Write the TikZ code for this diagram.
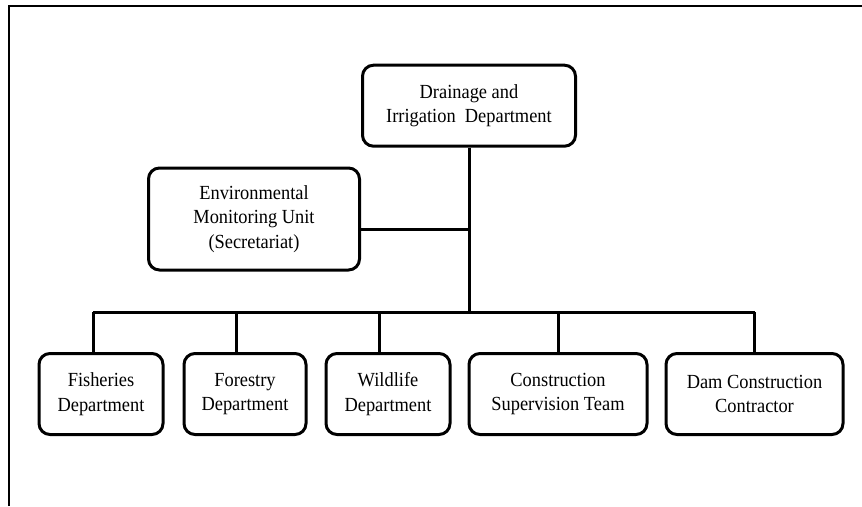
\documentclass[tikz,border=0pt]{standalone}
\usepackage{fontspec}
\setmainfont{Liberation Serif}[FakeStretch=0.92]

\begin{document}
\begin{tikzpicture}[x=1pt,y=-1pt,
    unit/.style={draw, line width=3pt, rounded corners=11pt, align=center,
        inner sep=0pt, minimum height=81pt,
        font=\fontsize{20}{24.5}\selectfont},
    link/.style={line width=3pt},
]
\useasboundingbox (0,0) rectangle (862,506);
\draw[line width=2pt] (8.5,506) -- (8.5,6) -- (862,6);

\node[unit, minimum width=213pt] (did) at (469,105.7)
    {Drainage and\\Irrigation\ \ Department};
\node[unit, minimum width=211pt, minimum height=102pt] (emu) at (254,219)
    {Environmental\\Monitoring Unit\\(Secretariat)};

% bottom row
\node[unit, minimum width=124pt] (fish) at (101,394) {Fisheries\\Department};
\node[unit, minimum width=122pt] (forest) at (245,394) {Forestry\\Department};
\node[unit, minimum width=124pt] (wild) at (388,394) {Wildlife\\Department};
\node[unit, minimum width=178pt] (team) at (558,394) {Construction\\Supervision Team};
\node[unit, minimum width=177pt] (dam) at (754.5,394) {Dam Construction\\Contractor};

\coordinate (bus) at (469,312);
\coordinate (tee) at (469,229);
\coordinate (b1) at (93,312);
\coordinate (b2) at (236,312);
\coordinate (b3) at (379,312);
\coordinate (b5) at (754.5,312);

\draw[link] (did.south) -- (bus);
\draw[link] (emu.east |- tee) -- (tee);
\draw[link] (b1) -- (b5);
\draw[link] (b1) -- (b1 |- fish.north);
\draw[link] (b2) -- (b2 |- forest.north);
\draw[link] (b3) -- (b3 |- wild.north);
\draw[link] (team.north |- bus) -- (team.north);
\draw[link] (b5) -- (dam.north);
\end{tikzpicture}
\end{document}
